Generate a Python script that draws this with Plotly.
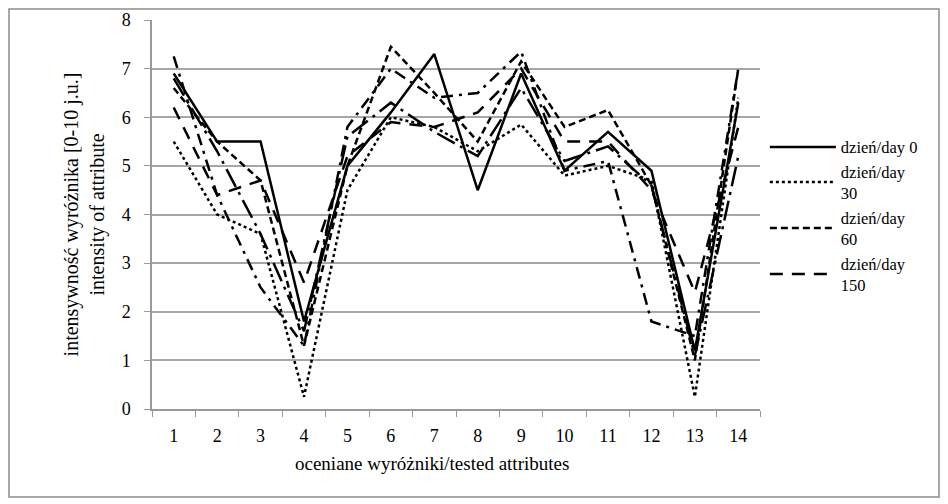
import plotly.graph_objects as go

categories = [str(i) for i in range(1, 15)]
day0 = [6.9, 5.5, 5.5, 1.8, 5.0, 6.1, 7.3, 4.5, 6.9, 4.9, 5.7, 4.9, 1.2, 6.3]
day30 = [5.5, 4.0, 3.6, 0.25, 4.5, 6.0, 5.8, 5.3, 5.85, 4.8, 5.0, 4.7, 0.25, 6.4]
day60 = [6.6, 5.5, 4.7, 1.3, 5.0, 7.45, 6.5, 5.5, 7.15, 5.8, 6.15, 4.6, 1.0, 7.0]
day150 = [6.2, 4.4, 4.7, 2.6, 5.2, 5.9, 5.8, 6.1, 7.0, 5.5, 5.5, 4.5, 2.4, 5.8]
extra1 = [7.25, 4.4, 2.5, 1.3, 5.8, 7.0, 6.4, 6.5, 7.35, 4.9, 5.1, 1.8, 1.5, 7.0]
extra2 = [6.8, 5.3, 3.6, 1.6, 5.6, 6.3, 5.7, 5.2, 6.6, 5.1, 5.4, 4.6, 1.1, 5.2]

series = [
    ("dzień/day 0", day0, "solid", True),
    ("dzień/day<br>30", day30, "dot", True),
    ("dzień/day<br>60", day60, "7px,4px", True),
    ("dzień/day<br>150", day150, "13px,9px", True),
    ("s5", extra1, "12px,6px,3px,6px", False),
    ("s6", extra2, "20px,6px,3px,6px", False),
]

fig = go.Figure()
for name, vals, dash, show in series:
    fig.add_trace(go.Scatter(
        x=categories, y=vals, mode="lines", name=name, showlegend=show,
        line=dict(color="black", width=2.5, dash=dash),
    ))

font = "Liberation Serif"
W, H = 940, 496
L, T, R, B = 144, 12, 188, 95
pw, ph = W - L - R, H - T - B

fig.update_layout(
    width=W, height=H,
    margin=dict(l=L, r=R, t=T, b=B, autoexpand=False),
    paper_bgcolor="white", plot_bgcolor="white",
    font=dict(family=font, size=18, color="black"),
    showlegend=True,
    legend=dict(x=1.008, y=0.718, xanchor="left", yanchor="top",
                itemwidth=66, tracegroupgap=0, bgcolor="rgba(0,0,0,0)",
                font=dict(family=font, size=16.5, color="black")),
    xaxis=dict(type="category", range=[-0.5, 13.5], showgrid=False, showline=True,
               linecolor="#999999", linewidth=1.5, ticks="outside", tickson="boundaries",
               ticklen=6, tickcolor="#999999", ticklabelstandoff=10, automargin=False,
               tickfont=dict(family=font, size=18)),
    yaxis=dict(range=[0, 8], dtick=1, showgrid=True, gridcolor="#a6a6a6", gridwidth=1.5,
               showline=True, linecolor="#999999", linewidth=1.5, ticks="outside",
               ticklen=6, tickcolor="#999999", ticklabelstandoff=10, zeroline=False,
               automargin=False, tickfont=dict(family=font, size=18),
               title=dict(text="intensywność wyróżnika [0-10 j.u.]<br>intensity of attribute",
                          font=dict(family=font, size=20), standoff=12)),
)
fig.add_annotation(text="oceniane wyróżniki/tested attributes", xref="paper", yref="paper",
                   x=(424 - L) / pw, y=(H - B - 455) / ph, showarrow=False,
                   xanchor="center", yanchor="middle", font=dict(family=font, size=19))
fig.add_shape(type="rect", xref="paper", yref="paper",
              x0=(1 - L) / pw, x1=(931 - L) / pw,
              y0=(H - B - 489) / ph, y1=(H - B - 1) / ph,
              line=dict(color="#8c8c8c", width=1.5))
fig.write_html("out.html")
